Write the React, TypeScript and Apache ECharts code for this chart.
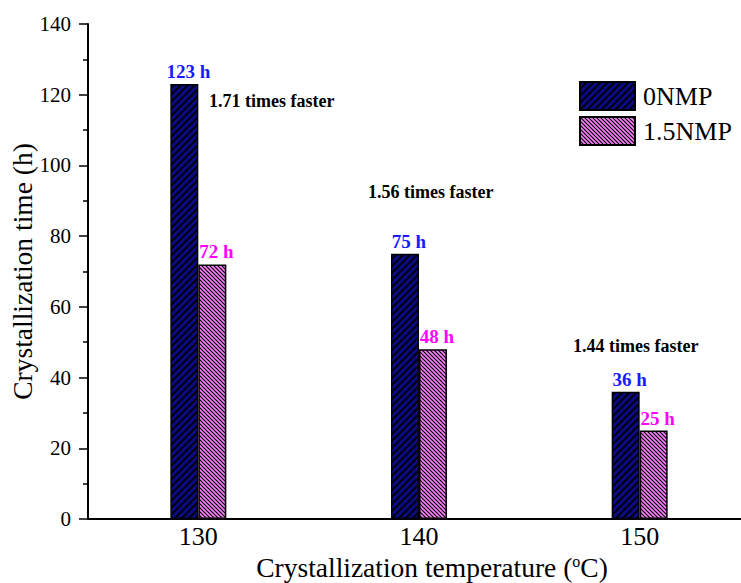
import React, { useEffect, useRef } from "react";
import * as echarts from "echarts";

// Crystallization time at each temperature, with and without NMP
const temperatures = ["130", "140", "150"];
const time0NMP = [123, 75, 36];
const time15NMP = [72, 48, 25];
const speedupNotes = ["1.71 times faster", "1.56 times faster", "1.44 times faster"];

const SERIF = "Liberation Serif";

// Square tile with one diagonal stroke; "/" when rising, "\" otherwise
function hatchTile(bg: string, size: number, lineWidth: number, rising: boolean) {
  const c = document.createElement("canvas");
  c.width = size;
  c.height = size;
  const ctx = c.getContext("2d")!;
  ctx.fillStyle = bg;
  ctx.fillRect(0, 0, size, size);
  ctx.strokeStyle = "#000";
  ctx.lineWidth = lineWidth;
  ctx.beginPath();
  for (const o of [-size, 0, size]) {
    if (rising) {
      ctx.moveTo(o - 1, size + 1);
      ctx.lineTo(o + size + 1, -1);
    } else {
      ctx.moveTo(o - 1, -1);
      ctx.lineTo(o + size + 1, size + 1);
    }
  }
  ctx.stroke();
  return { image: c, repeat: "repeat" };
}

export default function App() {
  const ref = useRef<HTMLDivElement>(null);

  useEffect(() => {
    if (!ref.current) return;
    const chart = echarts.init(ref.current, null, { renderer: "svg" });

    const navyFill = hatchTile("#0b0b80", 7, 1.6, true);
    const pinkFill = hatchTile("#ff80ff", 4, 1.2, false);

    const valueLabel = (color: string) => ({
      show: true,
      position: "top",
      distance: 3,
      offset: [4, 0],
      formatter: "{c} h",
      fontFamily: SERIF,
      fontWeight: "bold",
      fontSize: 19,
      color,
    });

    const option: any = {
      animation: false,
      backgroundColor: "#ffffff",
      textStyle: { fontFamily: SERIF },
      grid: { left: 88, top: 24, right: 0, bottom: 64, containLabel: false, outerBoundsMode: "none" },
      legend: {
        left: 579,
        top: 81,
        padding: 0,
        orient: "vertical",
        itemWidth: 55,
        itemHeight: 28,
        itemGap: 5,
        icon: "rect",
        textStyle: { fontFamily: SERIF, fontSize: 26, color: "#000", padding: [0, 0, 0, 3] },
        data: ["0NMP", "1.5NMP"],
      },
      xAxis: {
        type: "category",
        data: temperatures,
        axisLine: { lineStyle: { color: "#000", width: 2 } },
        axisTick: { show: false },
        axisLabel: { fontFamily: SERIF, fontSize: 26, color: "#000", margin: 4 },
        name: "Crystallization temperature ({sup|o}C)",
        nameLocation: "middle",
        nameMoveOverlap: false,
        nameGap: 34,
        nameTextStyle: {
          fontFamily: SERIF,
          fontSize: 27.5,
          color: "#000",
          padding: [0, 0, 0, 26],
          rich: {
            sup: { fontFamily: SERIF, fontSize: 16, color: "#000", verticalAlign: "top", padding: [0, 0, 12, 0] },
          },
        },
      },
      yAxis: {
        type: "value",
        min: 0,
        max: 140,
        interval: 20,
        splitLine: { show: false },
        axisLine: { show: true, lineStyle: { color: "#000", width: 2 } },
        axisTick: { show: true, inside: false, length: 9, lineStyle: { width: 1.5, color: "#000" } },
        minorTick: { show: true, splitNumber: 2, length: 5, lineStyle: { width: 1.5, color: "#000" } },
        axisLabel: { fontFamily: SERIF, fontSize: 21, color: "#000", margin: 17 },
        name: "Crystallization time (h)",
        nameLocation: "middle",
        nameMoveOverlap: false,
        nameGap: 52,
        nameTextStyle: { fontFamily: SERIF, fontSize: 27.5, color: "#000" },
      },
      series: [
        {
          name: "0NMP",
          type: "bar",
          data: time0NMP,
          barWidth: 28,
          barGap: "0%",
          itemStyle: { color: navyFill, borderColor: "#000", borderWidth: 1.5 },
          label: valueLabel("#1a1aff"),
        },
        {
          name: "1.5NMP",
          type: "bar",
          data: time15NMP,
          barWidth: 28,
          barGap: "0%",
          itemStyle: { color: pinkFill, borderColor: "#000", borderWidth: 1.5 },
          label: valueLabel("#ff00ff"),
        },
      ],
      graphic: [
        { type: "text", left: 209, top: 92, style: { text: speedupNotes[0], font: `bold 18px ${SERIF}`, fill: "#000" } },
        { type: "text", left: 368, top: 183, style: { text: speedupNotes[1], font: `bold 18px ${SERIF}`, fill: "#000" } },
        { type: "text", left: 573, top: 337, style: { text: speedupNotes[2], font: `bold 18px ${SERIF}`, fill: "#000" } },
      ],
    };

    chart.setOption(option);
    return () => chart.dispose();
  }, []);

  return (
    <div style={{ position: "fixed", left: 0, top: 0, width: 741, height: 583, overflow: "hidden", background: "#fff" }}>
      <div ref={ref} style={{ width: 750, height: 583 }} />
    </div>
  );
}
